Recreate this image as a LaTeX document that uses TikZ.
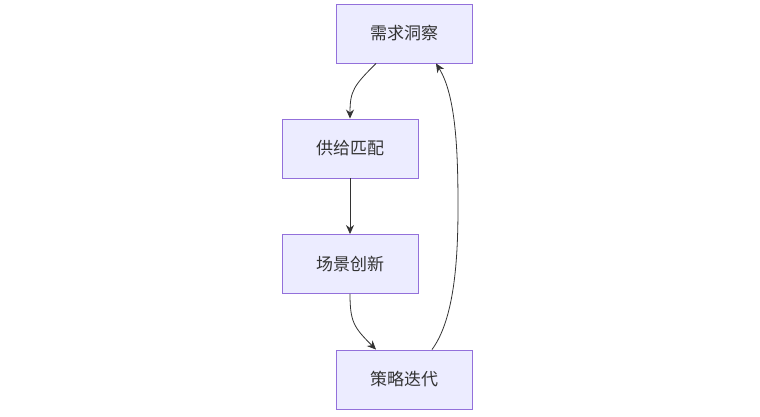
\documentclass[tikz,border=0pt]{standalone}
\usepackage{fontspec}
\newfontfamily\cjk{Noto Sans CJK SC}
\usepackage{xcolor}
\usetikzlibrary{shapes,arrows.meta,positioning}
\definecolor{boxfill}{HTML}{ECECFF}
\definecolor{boxline}{HTML}{9370DB}
\definecolor{linegray}{HTML}{333333}

\begin{document}
\begin{tikzpicture}[x=1pt, y=1pt,
    block/.style={rectangle, draw=boxline, fill=boxfill, line width=0.9pt, minimum width=136pt, minimum height=59pt, text=linegray, font=\cjk\fontsize{17}{20}\selectfont},
    arrow/.style={-{Stealth[length=9pt,width=8pt]}, draw=linegray, line width=0.8pt}]
    \useasboundingbox (0,0) rectangle (760,417);

    \node[block] (insight) at (404,383.5) {需求洞察};
    \node[block] (supply) at (350,268.5) {供给匹配};
    \node[block] (scene) at (350,153) {场景创新};
    \node[block] (iterate) at (404,37.5) {策略迭代};

    \draw[arrow] ([xshift=-28pt]insight.south) .. controls +(-22pt,-22pt) and +(0,28pt) .. (supply.north);
    \draw[arrow] (supply) -- (scene);
    \draw[arrow] (scene.south) .. controls +(0,-28pt) and +(-22pt,22pt) .. ([xshift=-28pt]iterate.north);
    \draw[arrow] ([xshift=28pt]iterate.north) .. controls +(22pt,30pt) and +(0,-55pt) .. (458,210) .. controls +(0,55pt) and +(20pt,-32pt) .. ([xshift=32pt]insight.south);
\end{tikzpicture}
\end{document}
